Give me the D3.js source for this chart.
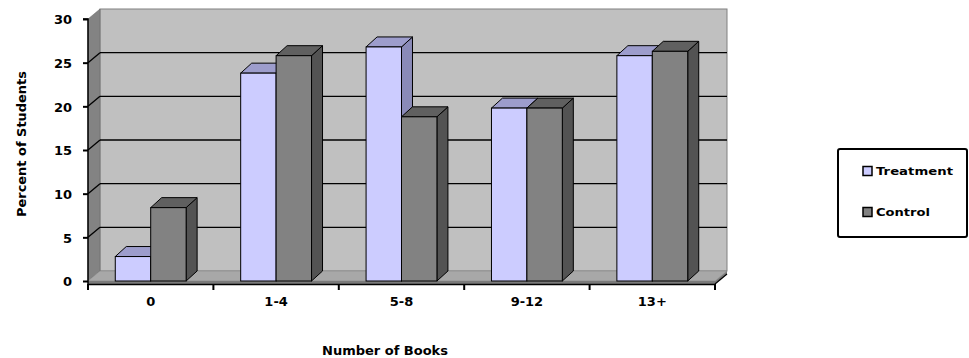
<!DOCTYPE html>
<html><head><meta charset="utf-8">
<script src="https://cdn.jsdelivr.net/npm/d3@7"></script>
<style>body{margin:0;background:#fff;}svg{display:block;}text{font-family:"DejaVu Sans",sans-serif;font-weight:bold;fill:#000;}</style>
</head><body>
<script>
const categories = ["0", "1-4", "5-8", "9-12", "13+"];
const seriesNames = ["Treatment", "Control"];
const treatment = [2.8, 23.8, 26.8, 19.8, 25.8];
const control = [8.4, 25.8, 18.8, 19.8, 26.3];
const yTicks = [0, 5, 10, 15, 20, 25, 30];

const W = 969, H = 358;
const FONT = "DejaVu Sans, sans-serif";
const svg = d3.select("body").append("svg").attr("width", W).attr("height", H);

const x0 = d3.scaleBand().domain(categories).range([88, 715]).paddingInner(0).paddingOuter(0);
const x1 = d3.scaleBand().domain(seriesNames).range([0, x0.bandwidth()]).paddingInner(0).paddingOuter(0.77);
const y = d3.scaleLinear().domain([0, 30]).range([281, 19]);
const D = {x: 12, y: -10};   // wall depth
const B = {x: 11, y: -10};   // bar depth

const colors = {
  Treatment: {front: "#ccccff", top: "#9d9dcc", side: "#8a8ab8"},
  Control: {front: "#828282", top: "#606060", side: "#535353"}
};

const [xl, xr] = x0.range();
const y0 = y(0), yTop = y(30);
const pts = a => a.map(p => p.join(",")).join(" ");

// back wall
svg.append("rect").attr("x", xl + D.x).attr("y", yTop + D.y)
  .attr("width", xr - xl).attr("height", y0 - yTop)
  .attr("fill", "#c0c0c0").attr("stroke", "#808080").attr("stroke-width", 1);
// left wall
svg.append("polygon")
  .attr("points", pts([[xl, y0], [xl + D.x, y0 + D.y], [xl + D.x, yTop + D.y], [xl, yTop]]))
  .attr("fill", "#838383").attr("stroke", "#666").attr("stroke-width", 0.5);
// floor
svg.append("polygon")
  .attr("points", pts([[xl, y0], [xr, y0], [xr + D.x, y0 + D.y], [xl + D.x, y0 + D.y]]))
  .attr("fill", "#a8a8a8").attr("stroke", "#808080").attr("stroke-width", 0.5);
// floor thickness
svg.append("polygon")
  .attr("points", pts([[xl, y0], [xr, y0], [xr + D.x, y0 + D.y], [xr + D.x, y0 + D.y + 3], [xr, y0 + 3], [xl, y0 + 3]]))
  .attr("fill", "#7a7a7a");

// gridlines
const grid = svg.append("g");
yTicks.filter(v => v > 0 && v < 30).forEach(v => {
  grid.append("line").attr("x1", xl + D.x).attr("x2", xr + D.x)
    .attr("y1", y(v) + D.y).attr("y2", y(v) + D.y)
    .attr("stroke", "#000").attr("stroke-width", 1.3);
  grid.append("line").attr("x1", xl).attr("x2", xl + D.x)
    .attr("y1", y(v)).attr("y2", y(v) + D.y)
    .attr("stroke", "#000").attr("stroke-width", 1.3);
});

// bars
const data = categories.map((c, i) => ({cat: c, vals: [{s: "Treatment", v: treatment[i]}, {s: "Control", v: control[i]}]}));
const groups = svg.append("g").selectAll("g").data(data).join("g")
  .attr("transform", d => `translate(${x0(d.cat)},0)`);
groups.each(function(d) {
  const g = d3.select(this);
  d.vals.forEach(o => {
    const bx = x1(o.s), bw = x1.bandwidth(), by = y(o.v), bb = y(0);
    const c = colors[o.s];
    g.append("polygon")
      .attr("points", pts([[bx + bw, bb], [bx + bw + B.x, bb + B.y], [bx + bw + B.x, by + B.y], [bx + bw, by]]))
      .attr("fill", c.side).attr("stroke", "#000").attr("stroke-width", 1).attr("stroke-linejoin", "round");
    g.append("polygon")
      .attr("points", pts([[bx, by], [bx + B.x, by + B.y], [bx + bw + B.x, by + B.y], [bx + bw, by]]))
      .attr("fill", c.top).attr("stroke", "#000").attr("stroke-width", 1).attr("stroke-linejoin", "round");
    g.append("rect").attr("x", bx).attr("y", by).attr("width", bw).attr("height", bb - by)
      .attr("fill", c.front).attr("stroke", "#000").attr("stroke-width", 1);
  });
});

// y axis
const yAxis = d3.axisLeft(y).tickValues(yTicks).tickSize(5).tickPadding(11).tickFormat(d3.format("d"));
const ya = svg.append("g").attr("transform", `translate(${xl},0)`).call(yAxis);
ya.select(".domain").attr("stroke", "#000").attr("stroke-width", 1.5).attr("d", `M-5,${yTop}H0V${y0 + 3}`);
ya.selectAll(".tick line").attr("stroke", "#000").attr("stroke-width", 2);
ya.selectAll(".tick text").style("font-size", "13px").style("font-family", FONT)
  .style("font-weight", "bold").attr("dy", "0.36em");

// x axis
const xAxis = d3.axisBottom(x0).tickSize(6).tickSizeOuter(0).tickPadding(9);
const xa = svg.append("g").attr("transform", `translate(0,${y0 + 3})`).call(xAxis);
xa.select(".domain").attr("stroke", "#000").attr("stroke-width", 1.5);
xa.selectAll(".tick line").remove();
xa.selectAll(".tick text").style("font-size", "13px").style("font-family", FONT)
  .style("font-weight", "bold").attr("y", 13);
const bounds = categories.map(c => x0(c)).concat([xr]);
xa.selectAll("line.bt").data(bounds).join("line").attr("class", "bt")
  .attr("x1", d => d).attr("x2", d => d).attr("y1", 0).attr("y2", 6)
  .attr("stroke", "#000").attr("stroke-width", 2);
svg.append("line").attr("x1", xr).attr("y1", y0 + 3).attr("x2", xr + D.x).attr("y2", y0 + 3 + D.y)
  .attr("stroke", "#000").attr("stroke-width", 1.2);

// axis titles
svg.append("text").attr("transform", `translate(26,${(70 + 218) / 2}) rotate(-90)`)
  .attr("text-anchor", "middle").style("font-size", "13px")
  .attr("textLength", 146).attr("lengthAdjust", "spacingAndGlyphs")
  .text("Percent of Students");
svg.append("text").attr("x", 385).attr("y", 355).attr("text-anchor", "middle").style("font-size", "13px")
  .attr("textLength", 126).attr("lengthAdjust", "spacingAndGlyphs")
  .text("Number of Books");

// legend
const lg = svg.append("g");
lg.append("rect").attr("x", 838).attr("y", 149).attr("width", 129).attr("height", 88).attr("rx", 2)
  .attr("fill", "#fff").attr("stroke", "#000").attr("stroke-width", 2);
seriesNames.forEach((s, i) => {
  const cy = 171 + i * 41;
  lg.append("rect").attr("x", 863).attr("y", cy - 4.5).attr("width", 9).attr("height", 9)
    .attr("fill", colors[s].front).attr("stroke", "#000").attr("stroke-width", 1.5);
  lg.append("text").attr("x", 876).attr("y", cy).attr("dy", "0.36em").style("font-size", "11px")
    .attr("textLength", s === "Treatment" ? 77 : 54).attr("lengthAdjust", "spacingAndGlyphs")
    .text(s);
});
</script>
</body></html>
